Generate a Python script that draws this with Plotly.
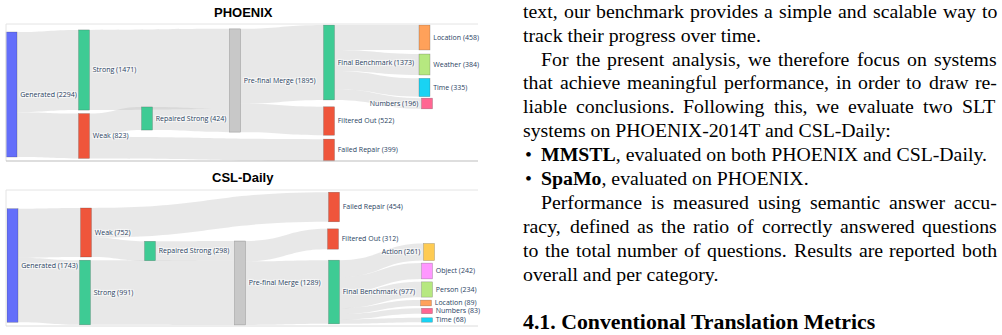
import plotly.graph_objects as go

W, H = 1002, 335

# ---------------- data ----------------
phx_nodes = ["Generated", "Strong", "Weak", "Repaired Strong", "Pre-final Merge",
             "Final Benchmark", "Filtered Out", "Failed Repair",
             "Location", "Weather", "Time", "Numbers"]
phx_src = ["Generated", "Generated", "Weak", "Weak", "Strong", "Repaired Strong",
           "Pre-final Merge", "Pre-final Merge",
           "Final Benchmark", "Final Benchmark", "Final Benchmark", "Final Benchmark"]
phx_tgt = ["Strong", "Weak", "Repaired Strong", "Failed Repair", "Pre-final Merge", "Pre-final Merge",
           "Final Benchmark", "Filtered Out",
           "Location", "Weather", "Time", "Numbers"]
phx_val = [1471, 823, 424, 399, 1471, 424, 1373, 522, 458, 384, 335, 196]

csl_nodes = ["Generated", "Weak", "Strong", "Repaired Strong", "Pre-final Merge",
             "Failed Repair", "Filtered Out", "Final Benchmark",
             "Action", "Object", "Person", "Location", "Numbers", "Time"]
csl_src = ["Generated", "Generated", "Weak", "Weak", "Strong", "Repaired Strong",
           "Pre-final Merge", "Pre-final Merge",
           "Final Benchmark", "Final Benchmark", "Final Benchmark",
           "Final Benchmark", "Final Benchmark", "Final Benchmark"]
csl_tgt = ["Weak", "Strong", "Repaired Strong", "Failed Repair", "Pre-final Merge", "Pre-final Merge",
           "Filtered Out", "Final Benchmark",
           "Action", "Object", "Person", "Location", "Numbers", "Time"]
csl_val = [752, 991, 298, 454, 991, 298, 312, 977, 261, 242, 234, 89, 83, 68]

# ---------------- styles / layout positions ----------------
node_colors = {
    "Generated": "#636efa", "Strong": "#3ecb94", "Weak": "#ef553b",
    "Repaired Strong": "#3ecb94", "Pre-final Merge": "#c8c8c8",
    "Final Benchmark": "#3ecb94", "Filtered Out": "#ef553b", "Failed Repair": "#ef553b",
    "Location": "#ffa15a", "Weather": "#b6e880", "Time": "#19d3f3", "Numbers": "#ff6692",
    "Action": "#fecb52", "Object": "#ff97ff", "Person": "#b6e880",
}

# node centre positions in pixels (page coordinates)
phx_box = (6, 478, 24, 161)   # x0, x1, ytop, ybottom
phx_px = [11.5, 84, 84, 147, 235, 329, 329, 329, 424.5, 424.5, 424.5, 427]
phx_py = [94.5, 70, 136, 118.5, 80.5, 62.5, 121, 150, 37.5, 64.5, 87.5, 103.5]
csl_box = (6, 478, 190, 326)
csl_px = [12.5, 86, 85, 150, 240, 334, 333, 334, 429, 427, 427, 426, 427, 427]
csl_py = [265.5, 232.5, 292.5, 251, 283, 207, 239, 292, 252, 271, 289.5, 303, 311, 320]


def node_values(nodes, src, tgt, val):
    out = {n: 0 for n in nodes}
    inn = {n: 0 for n in nodes}
    for s, t, v in zip(src, tgt, val):
        out[s] += v
        inn[t] += v
    return [max(out[n], inn[n]) for n in nodes]


def make_sankey(nodes, src, tgt, val, px, py, box, pad):
    x0, x1, yt, yb = box
    vals = node_values(nodes, src, tgt, val)
    idx = {n: i for i, n in enumerate(nodes)}
    return go.Sankey(
        domain=dict(x=[x0 / W, x1 / W], y=[1 - yb / H, 1 - yt / H]),
        arrangement="fixed",
        hoverinfo="none",
        node=dict(
            label=[f"{n} ({v})" for n, v in zip(nodes, vals)],
            color=[node_colors[n] for n in nodes],
            x=[(p - x0) / (x1 - x0) for p in px],
            y=[(p - yt) / (yb - yt) for p in py],
            pad=pad, thickness=11,
            line=dict(color="rgba(60,60,60,0.45)", width=0.5),
            hoverinfo="none",
        ),
        link=dict(
            source=[idx[s] for s in src],
            target=[idx[t] for t in tgt],
            value=val,
            color="rgba(190,190,190,0.36)",
            hoverinfo="none",
        ),
        textfont=dict(family="Open Sans", size=7.0, color="#2a3f5f"),
    )


fig = go.Figure()
fig.add_trace(make_sankey(phx_nodes, phx_src, phx_tgt, phx_val, phx_px, phx_py, phx_box, 2.4))
fig.add_trace(make_sankey(csl_nodes, csl_src, csl_tgt, csl_val, csl_px, csl_py, csl_box, 3.2))

annotations = []
shapes = []


def px_x(x):
    return x / W


def px_y(y):
    return 1 - y / H


# panel titles
for title, ty in [("PHOENIX", 12), ("CSL-Daily", 177)]:
    annotations.append(dict(text=f"<b>{title}</b>", x=px_x(243), y=px_y(ty), xref="paper", yref="paper",
                            xanchor="center", yanchor="middle", showarrow=False,
                            font=dict(family="Liberation Sans", size=13, color="#000000")))

# panel frames (left, top, bottom edges)
for (x0, x1, yt, yb), bcol in [(phx_box, "#bdbdbd"), (csl_box, "#dcdcdc")]:
    shapes.append(dict(type="line", xref="paper", yref="paper", x0=px_x(x0), x1=px_x(x1),
                       y0=px_y(yt), y1=px_y(yt), line=dict(color="#e4e4e4", width=1)))
    shapes.append(dict(type="line", xref="paper", yref="paper", x0=px_x(x0), x1=px_x(x0),
                       y0=px_y(yt), y1=px_y(yb), line=dict(color="#e4e4e4", width=1)))
    shapes.append(dict(type="line", xref="paper", yref="paper", x0=px_x(x0), x1=px_x(x1),
                       y0=px_y(yb), y1=px_y(yb), line=dict(color=bcol, width=1)))

# ---------------- right-hand page text ----------------
body_lines = [
    "text, our benchmark provides a simple and scalable way to",
    "track their progress over time.",
    "For the present analysis, we therefore focus on systems",
    "that achieve meaningful performance, in order to draw re-",
    "liable conclusions.  Following this, we evaluate two SLT",
    "systems on PHOENIX-2014T and CSL-Daily:",
    "<b>MMSTL</b>, evaluated on both PHOENIX and CSL-Daily.",
    "<b>SpaMo</b>, evaluated on PHOENIX.",
    "Performance is measured using semantic answer accu-",
    "racy, defined as the ratio of correctly answered questions",
    "to the total number of questions. Results are reported both",
    "overall and per category.",
]
heading = "4.1. Conventional Translation Metrics"
justified = [True, False, True, True, True, False, False, False, True, True, True, False]
indented = [False, False, True, False, False, False, False, False, True, False, False, False]
bulleted = [False, False, False, False, False, False, True, True, False, False, False, False]

# Times-Roman advance widths (1/1000 em)
TIMES = {" ": 250, ",": 250, ".": 250, "-": 333, ":": 278, "(": 333, ")": 333, "?": 444}
TIMES.update({d: 500 for d in "0123456789"})
TIMES.update(dict(zip("ABCDEFGHIJKLMNOPQRSTUVWXYZ",
                      [722, 667, 667, 722, 611, 556, 722, 722, 333, 389, 722, 611, 889,
                       722, 722, 556, 722, 667, 556, 611, 722, 722, 944, 722, 722, 611])))
TIMES.update(dict(zip("abcdefghijklmnopqrstuvwxyz",
                      [444, 500, 444, 500, 444, 333, 500, 500, 278, 278, 500, 278, 778,
                       500, 500, 500, 500, 333, 389, 278, 500, 500, 722, 500, 500, 444])))


def tw(s, fs):
    return sum(TIMES.get(ch, 500) for ch in s) / 1000.0 * fs


FS = 19.8
LEFT, RIGHT = 523, 997
INDENT = 18
Y0, LEAD = 10.8, 23.9
serif = dict(family="Liberation Serif", size=FS, color="#000000")

for i, line in enumerate(body_lines):
    yc = Y0 + i * LEAD
    xl = LEFT + (INDENT if (indented[i] or bulleted[i]) else 0)
    if bulleted[i]:
        annotations.append(dict(text="•", x=px_x(LEFT + 2), y=px_y(yc), xref="paper", yref="paper",
                                xanchor="left", yanchor="middle", showarrow=False, font=serif,
                                borderpad=0, borderwidth=0))
    if justified[i]:
        words = line.split()
        widths = [tw(w, FS) for w in words]
        gap = (RIGHT - xl - sum(widths)) / (len(words) - 1)
        x = xl
        for w, wd in zip(words, widths):
            annotations.append(dict(text=w, x=px_x(x), y=px_y(yc), xref="paper", yref="paper",
                                    xanchor="left", yanchor="middle", showarrow=False, font=serif,
                                    borderpad=0, borderwidth=0))
            x += wd + gap
    else:
        annotations.append(dict(text=line, x=px_x(xl), y=px_y(yc), xref="paper", yref="paper",
                                xanchor="left", yanchor="middle", showarrow=False, font=serif,
                                borderpad=0, borderwidth=0))

annotations.append(dict(text=f"<b>{heading}</b>", x=px_x(LEFT), y=px_y(322), xref="paper", yref="paper",
                        xanchor="left", yanchor="middle", showarrow=False,
                        font=dict(family="Liberation Serif", size=21.8, color="#000000"),
                        borderpad=0, borderwidth=0))

fig.update_layout(
    width=W, height=H,
    margin=dict(l=0, r=0, t=0, b=0),
    paper_bgcolor="white", plot_bgcolor="white",
    annotations=annotations, shapes=shapes,
    showlegend=False,
)

fig.write_html("out.html", config={"displayModeBar": False})
